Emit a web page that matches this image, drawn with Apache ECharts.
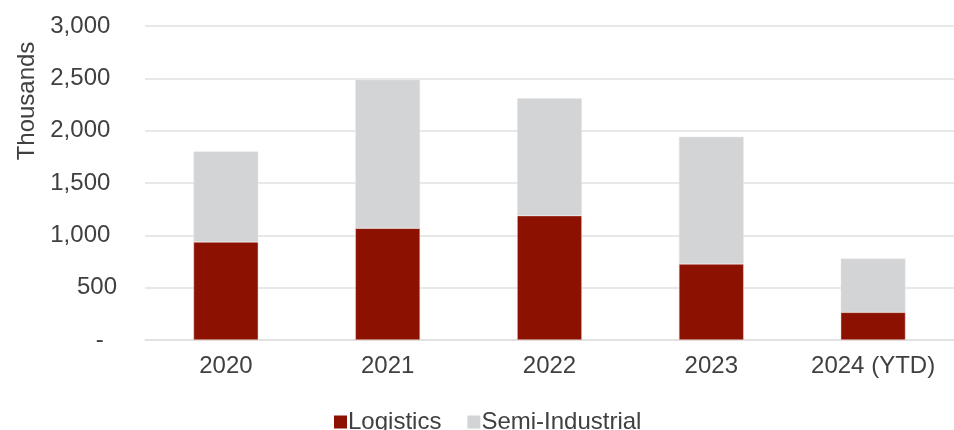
<!DOCTYPE html>
<html>
<head>
<meta charset="utf-8">
<script src="https://cdn.jsdelivr.net/npm/echarts@6/dist/echarts.min.js"></script>
<style>
  html, body { margin: 0; padding: 0; background: #fff; }
  #chart { width: 954px; height: 430px; }
</style>
</head>
<body>
<div id="chart"></div>
<script>
// Catégories et valeurs (en milliers)
const years = ['2020', '2021', '2022', '2023', '2024 (YTD)'];
const logistics = [937, 1067, 1188, 727, 264];
const semiIndustrial = [863, 1420, 1122, 1214, 514];
const yTicks = [0, 500, 1000, 1500, 2000, 2500, 3000];

const textColor = '#404040';
const fontFamily = '"Liberation Sans", Arial, sans-serif';

const chart = echarts.init(document.getElementById('chart'), null, { renderer: 'canvas' });

const option = {
    backgroundColor: '#ffffff',
    animation: false,
    textStyle: { fontFamily: fontFamily },
    grid: {
        left: 145,
        right: 0,
        top: 26,
        bottom: 90,
        containLabel: false
    },
    legend: {
        left: 329,
        top: 405,
        itemWidth: 13,
        itemHeight: 13,
        itemGap: 26,
        icon: 'rect',
        itemStyle: { borderWidth: 0 },
        textStyle: { color: textColor, fontSize: 24, fontFamily: fontFamily, padding: [0, 0, 0, -4] },
        data: ['Logistics', 'Semi-Industrial']
    },
    xAxis: {
        type: 'category',
        data: years,
        axisTick: { show: false },
        axisLine: { lineStyle: { color: '#e0e0e0', width: 1.5 } },
        axisLabel: { color: textColor, fontSize: 24, margin: 14, fontFamily: fontFamily }
    },
    yAxis: {
        type: 'value',
        min: yTicks[0],
        max: yTicks[yTicks.length - 1],
        interval: 500,
        name: 'Thousands',
        nameLocation: 'middle',
        nameGap: 105,
        nameTextStyle: { color: textColor, fontSize: 24, fontFamily: fontFamily, padding: [0, 0, 0, 164] },
        axisLine: { show: false },
        axisTick: { show: false },
        axisLabel: {
            color: textColor,
            fontSize: 24,
            margin: 28,
            fontFamily: fontFamily,
            formatter: function (v) {
                if (v === 0) return '-  ';
                if (v >= 1000) return v.toLocaleString('en-US') + ' ';
                return String(v);
            }
        },
        splitLine: { lineStyle: { color: '#e0e0e0', width: 1.5 } }
    },
    series: [
        {
            name: 'Logistics',
            type: 'bar',
            stack: 'total',
            barWidth: '40%',
            data: logistics,
            itemStyle: { color: '#8c1100', borderColor: '#e8d0cc', borderWidth: 0.5 }
        },
        {
            name: 'Semi-Industrial',
            type: 'bar',
            stack: 'total',
            barWidth: '40%',
            data: semiIndustrial,
            itemStyle: { color: '#d3d4d6', borderColor: '#e6e6e6', borderWidth: 0.5 }
        }
    ]
};

chart.setOption(option);
</script>
</body>
</html>
